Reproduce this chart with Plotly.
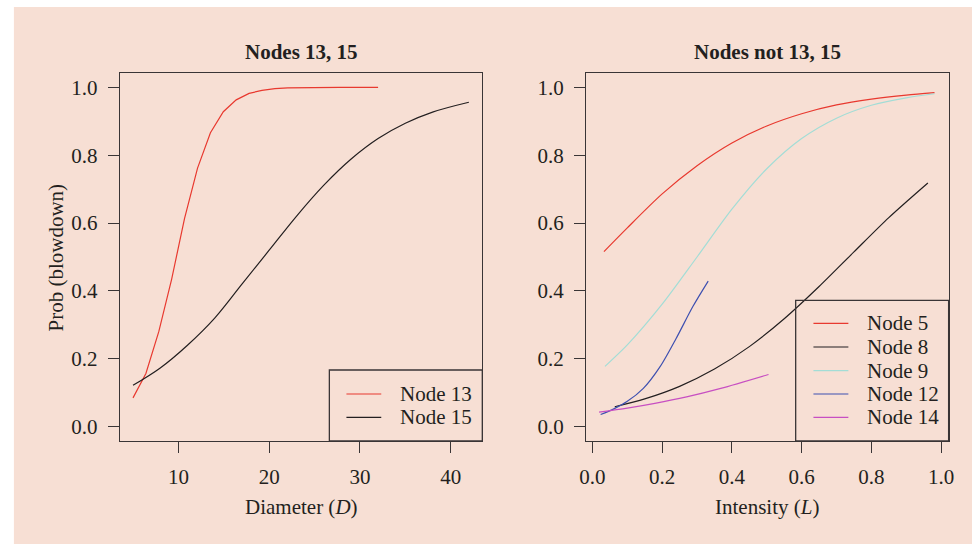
import plotly.graph_objects as go

# ---------------- data ----------------
# Left panel: Nodes 13, 15 (x = Diameter D)
node13_D = [5.0, 6.42, 7.84, 9.26, 10.68, 12.11, 13.53, 14.95, 16.37, 17.79,
            19.21, 20.63, 22.05, 23.47, 24.89, 26.32, 27.74, 29.16, 30.58, 32.0]
node13_p = [0.085, 0.157, 0.280, 0.435, 0.614, 0.762, 0.866, 0.928, 0.963, 0.982,
            0.991, 0.996, 0.998, 0.999, 0.9995, 1.0, 1.0, 1.0, 1.0, 1.0]

node15_D = [5, 8, 11, 14, 17, 20, 23, 26, 29, 32, 35, 38, 42]
node15_p = [0.122, 0.173, 0.240, 0.320, 0.420, 0.520, 0.620, 0.711, 0.788,
            0.849, 0.894, 0.927, 0.956]

# Right panel: Nodes not 13, 15 (x = Intensity L)
node5_L = [0.033, 0.1, 0.2, 0.3, 0.4, 0.5, 0.6, 0.7, 0.8, 0.9, 0.981]
node5_p = [0.516, 0.586, 0.686, 0.769, 0.836, 0.886, 0.922, 0.948, 0.965, 0.977, 0.984]

node8_L = [0.064, 0.15, 0.25, 0.35, 0.45, 0.55, 0.65, 0.75, 0.85, 0.962]
node8_p = [0.059, 0.082, 0.119, 0.170, 0.236, 0.318, 0.413, 0.515, 0.616, 0.718]

node9_L = [0.036, 0.1, 0.2, 0.3, 0.4, 0.5, 0.6, 0.7, 0.8, 0.9, 0.981]
node9_p = [0.178, 0.241, 0.361, 0.500, 0.641, 0.760, 0.849, 0.909, 0.947, 0.969, 0.981]

node12_L = [0.0235, 0.06, 0.099, 0.146, 0.194, 0.24, 0.288, 0.332]
node12_p = [0.036, 0.052, 0.074, 0.113, 0.177, 0.260, 0.354, 0.429]

node14_L = [0.019, 0.1, 0.179, 0.27, 0.368, 0.505]
node14_p = [0.043, 0.055, 0.069, 0.088, 0.113, 0.154]

left_names = ["Node 13", "Node 15"]
right_names = ["Node 5", "Node 8", "Node 9", "Node 12", "Node 14"]
titles = ["Nodes 13, 15", "Nodes not 13, 15"]
xtitles = ["Diameter (<i>D</i>)", "Intensity (<i>L</i>)"]
ytitle = "Prob (blowdown)"
y_ticks = [0.0, 0.2, 0.4, 0.6, 0.8, 1.0]
x_ticks_left = [10, 20, 30, 40]
x_ticks_right = [0.0, 0.2, 0.4, 0.6, 0.8, 1.0]

# ---------------- style ----------------
W, H = 978, 545
BG = "#F7DFD4"
INK = "#231F20"
FONT = "Liberation Serif, Times New Roman, serif"
RED = "#E8392F"
BLACK = "#231F20"
CYAN = "#A3DDD6"
BLUE = "#3E50B0"
MAGENTA = "#C74FC2"

left_colors = [RED, BLACK]
right_colors = [RED, BLACK, CYAN, BLUE, MAGENTA]

def px(x):
    return x / W

def py(y):
    return 1 - y / H

fig = go.Figure()

left_series = [(node13_D, node13_p, "linear"), (node15_D, node15_p, "spline")]
for (xs, ys, shape), name, col in zip(left_series, left_names, left_colors):
    fig.add_trace(go.Scatter(x=xs, y=ys, mode="lines", name=name,
                             line=dict(color=col, width=1.2, shape=shape),
                             xaxis="x", yaxis="y", showlegend=False))

right_series = [(node5_L, node5_p), (node8_L, node8_p), (node9_L, node9_p),
                (node12_L, node12_p), (node14_L, node14_p)]
for (xs, ys), name, col in zip(right_series, right_names, right_colors):
    fig.add_trace(go.Scatter(x=xs, y=ys, mode="lines", name=name,
                             line=dict(color=col, width=1.2, shape="spline", smoothing=0.8),
                             xaxis="x2", yaxis="y2", showlegend=False))

# panel geometry (pixels)
L_box = (114.3, 481.7)
R_box = (587.0, 954.3)
top, bottom = 73.3, 441.0

axis_common = dict(showline=True, mirror=True, linecolor="#3A3536", linewidth=1.3,
                   ticks="outside", ticklen=11, tickwidth=1.2, tickcolor="#3A3536",
                   showgrid=False, zeroline=False,
                   tickfont=dict(family=FONT, size=21, color=INK))

fig.update_layout(
    width=W, height=H,
    margin=dict(l=0, r=0, t=0, b=0),
    paper_bgcolor="white",
    plot_bgcolor="rgba(0,0,0,0)",
    showlegend=False,
    xaxis=dict(domain=[px(L_box[0]), px(L_box[1])], range=[3.543, 43.48],
               tickvals=x_ticks_left, anchor="y", ticklabelstandoff=6, **axis_common),
    yaxis=dict(domain=[py(bottom), py(top)], range=[-0.042, 1.0412],
               tickvals=y_ticks, tickformat=".1f", anchor="x", ticklabelstandoff=6, **axis_common),
    xaxis2=dict(domain=[px(R_box[0]), px(R_box[1])], range=[-0.0179, 1.0215],
                tickvals=x_ticks_right, tickformat=".1f", anchor="y2", ticklabelstandoff=6, **axis_common),
    yaxis2=dict(domain=[py(bottom), py(top)], range=[-0.042, 1.0412],
                tickvals=y_ticks, tickformat=".1f", anchor="x2", ticklabelstandoff=6, **axis_common),
)

shapes = []
# peach background
shapes.append(dict(type="rect", xref="paper", yref="paper", x0=px(7), x1=1.0,
                   y0=py(544), y1=py(7), fillcolor=BG, line=dict(width=0), layer="below"))

annotations = []
# titles
for box, t in zip([L_box, R_box], titles):
    annotations.append(dict(text="<b>" + t + "</b>", x=px((box[0] + box[1]) / 2), y=py(51.7),
                            xref="paper", yref="paper", showarrow=False,
                            xanchor="center", yanchor="middle",
                            font=dict(family=FONT, size=21, color=INK)))
# x axis titles
for box, t in zip([L_box, R_box], xtitles):
    annotations.append(dict(text=t, x=px((box[0] + box[1]) / 2), y=py(507),
                            xref="paper", yref="paper", showarrow=False,
                            xanchor="center", yanchor="middle",
                            font=dict(family=FONT, size=21, color=INK)))
# y axis title
annotations.append(dict(text=ytitle, x=px(50), y=py((top + bottom) / 2),
                        xref="paper", yref="paper", showarrow=False, textangle=-90,
                        xanchor="center", yanchor="middle",
                        font=dict(family=FONT, size=21, color=INK)))

# legends (drawn as boxes with sample lines and labels)
def legend(x0, x1, y0, y1, names, colors, ys, lx0, lx1, tx):
    shapes.append(dict(type="rect", xref="paper", yref="paper", x0=px(x0), x1=px(x1),
                       y0=py(y1), y1=py(y0), line=dict(color="#3A3536", width=1.3),
                       fillcolor="rgba(0,0,0,0)"))
    for n, c, yy in zip(names, colors, ys):
        shapes.append(dict(type="line", xref="paper", yref="paper", x0=px(lx0), x1=px(lx1),
                           y0=py(yy), y1=py(yy), line=dict(color=c, width=1.2)))
        annotations.append(dict(text=n, x=px(tx), y=py(yy), xref="paper", yref="paper",
                                showarrow=False, xanchor="left", yanchor="middle",
                                font=dict(family=FONT, size=21, color=INK)))

legend(326.7, 481.7, 370.0, 441.0, left_names, left_colors, [394.0, 417.3], 344.0, 379.3, 396.7)
legend(799.3, 954.3, 300.3, 441.0, right_names, right_colors,
       [323.3, 347.0, 370.7, 394.0, 417.3], 817.3, 852.7, 870.0)

fig.update_layout(shapes=shapes, annotations=annotations)
fig.write_html("out.html", config={"displayModeBar": False},
               post_script="document.body.style.margin='0';document.body.style.overflow='hidden';")
